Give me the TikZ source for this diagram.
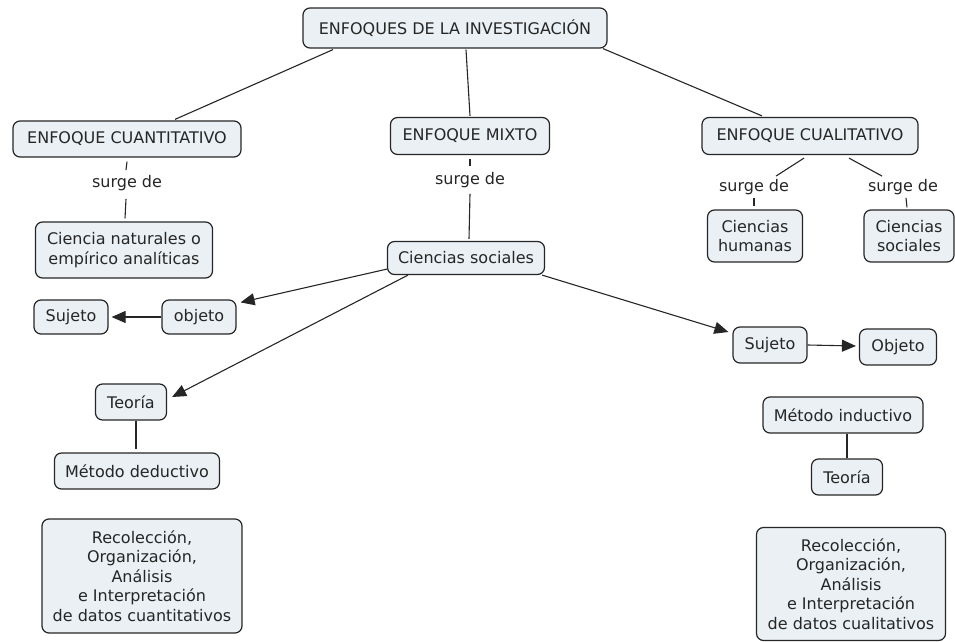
\documentclass[tikz,border=0pt]{standalone}
\usepackage{fontspec}
\setmainfont{DejaVu Sans}
\usetikzlibrary{arrows.meta,calc}
\definecolor{boxfill}{HTML}{EAF0F4}
\definecolor{ink}{HTML}{262626}
\begin{document}
\begin{tikzpicture}[x=1pt,y=-1pt,
  box/.style={draw=ink, fill=boxfill, rounded corners=7pt, line width=1.2pt, align=center,
    inner sep=0pt, font=\fontsize{16}{19.5}\selectfont, text=ink},
  lab/.style={inner sep=0pt, font=\fontsize{16}{19.5}\selectfont, text=ink},
  link/.style={draw=ink, line width=1.1pt},
  arr/.style={link, -{Triangle[length=14pt,width=12pt]}}]
\useasboundingbox (0,0) rectangle (955,642);
\fill[white] (0,0) rectangle (955,642);

% nodes
\node[box, minimum width=304pt, minimum height=40pt] (top) at (455,28) {ENFOQUES DE LA INVESTIGACIÓN};
\node[box, minimum width=228pt, minimum height=36pt] (cuanti) at (127,139) {ENFOQUE CUANTITATIVO};
\node[box, minimum width=159pt, minimum height=37pt] (mixto) at (470,136) {ENFOQUE MIXTO};
\node[box, minimum width=216pt, minimum height=37pt] (cuali) at (810,136) {ENFOQUE CUALITATIVO};

\node[lab] (s1) at (127,183) {surge de};
\node[lab] (s2) at (470,180) {surge de};
\node[lab] (s3) at (754,187) {surge de};
\node[lab] (s4) at (903,187) {surge de};

\node[box, minimum width=177pt, minimum height=56pt] (nat) at (124,250) {Ciencia naturales o\\empírico analíticas};
\node[box, minimum width=157pt, minimum height=33pt] (soc) at (466,258) {Ciencias sociales};
\node[box, minimum width=95pt, minimum height=52pt] (hum) at (755,236) {Ciencias\\humanas};
\node[box, minimum width=90pt, minimum height=52pt] (soc2) at (909,236) {Ciencias\\sociales};

\node[box, minimum width=74pt, minimum height=34pt] (suj1) at (71,317) {Sujeto};
\node[box, minimum width=74pt, minimum height=34pt] (obj1) at (199,317) {objeto};
\node[box, minimum width=71pt, minimum height=36pt] (teo1) at (131,402) {Teoría};
\node[box, minimum width=165pt, minimum height=36pt] (ded) at (137,471) {Método deductivo};
\node[box, minimum width=200pt, minimum height=114pt] (rec1) at (142,576) {Recolección,\\Organización,\\Análisis\\e Interpretación\\de datos cuantitativos};

\node[box, minimum width=74pt, minimum height=36pt] (suj2) at (770,345) {Sujeto};
\node[box, minimum width=77pt, minimum height=36pt] (obj2) at (898,347) {Objeto};
\node[box, minimum width=160pt, minimum height=36pt] (ind) at (843,415) {Método inductivo};
\node[box, minimum width=71pt, minimum height=36pt] (teo2) at (847,477) {Teoría};
\node[box, minimum width=189pt, minimum height=113pt] (rec2) at (851,584) {Recolección,\\Organización,\\Análisis\\e Interpretación\\de datos cualitativos};

% connectors
\draw[link] ($(top.south)+(-122,1)$) -- ($(cuanti.north)+(48,-1)$);
\draw[link] ($(top.south)+(11,1)$) -- ($(mixto.north)+(0,-1)$);
\draw[link] ($(top.south)+(148,0)$) -- ($(cuali.north)+(-48,-1)$);

\draw[link] ($(cuanti.south)+(0,4)$) -- ($(s1.north)+(-1,-5)$);
\draw[link] ($(s1.south)+(-1,8)$) -- ($(nat.north)+(1,-3)$);
\draw[link] ($(mixto.south)+(0,4)$) -- ($(s2.north)+(0,-6)$);
\draw[link] ($(s2.south)+(0,6)$) -- ($(soc.north)+(3,-2)$);
\draw[link] ($(cuali.south)+(-6,3)$) -- ($(s3.north)+(22,-3)$);
\draw[link] ($(cuali.south)+(39,3)$) -- ($(s4.north)+(-21,-3)$);
\draw[link] ($(s3.south)+(0,3)$) -- ($(hum.north)+(-1,-3)$);
\draw[link] ($(s4.south)+(3,3)$) -- ($(soc2.north)+(-2,-2)$);

\draw[arr] ($(soc.south west)+(0,-6)$) -- ($(obj1.north east)+(4,3)$);
\draw[arr] (obj1.west) -- ($(suj1.east)+(3,0)$);
\draw[arr] ($(soc.south)+(-58,0)$) -- ($(teo1.east)+(5,-5)$);
\draw[link] ($(teo1.south)+(5,0)$) -- ($(ded.north)+(-1,-3)$);
\draw[arr] ($(soc.south east)+(-3,0)$) -- ($(suj2.west)+(-4,-13)$);
\draw[arr] (suj2.east) -- ($(obj2.west)+(-3,-1)$);
\draw[link] ($(ind.south)+(4,0)$) -- ($(teo2.north)+(0,0)$);
\end{tikzpicture}
\end{document}
